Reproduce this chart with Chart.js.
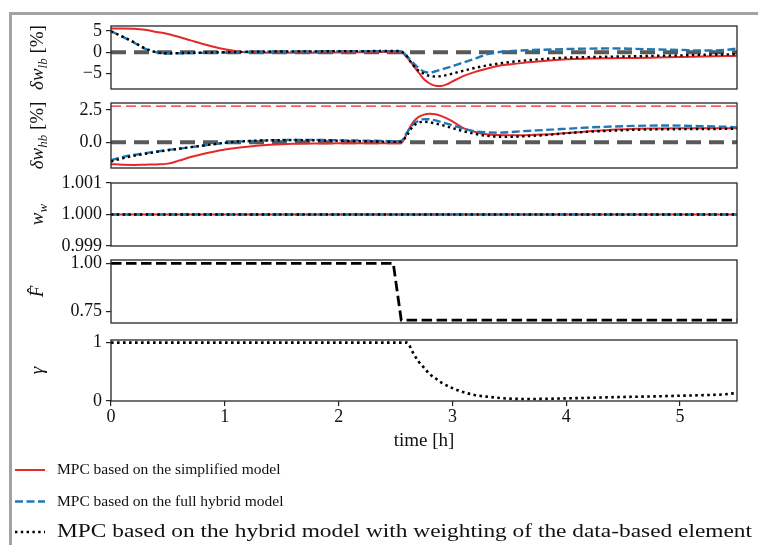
<!DOCTYPE html>
<html>
<head>
<meta charset="utf-8">
<script src="https://cdn.jsdelivr.net/npm/chart.js@4.4.0/dist/chart.umd.min.js"></script>
<style>
  html, body { margin: 0; padding: 0; background: #fff; }
  #wrap { position: relative; width: 758px; height: 545px; overflow: hidden; background: #fff; }
  #frame { position: absolute; left: 9px; top: 12px; right: 0; bottom: 0;
           border-top: 3px solid #a3a3a3; border-left: 3px solid #a3a3a3; }
  canvas { position: absolute; left: 0; }
</style>
</head>
<body>
<div id="wrap"><div id="frame"></div></div>
<script>
// ---- data ----
const timeGrid = [0, 0.1, 0.2, 0.3, 0.4, 0.5, 0.6, 0.7, 0.8, 0.9, 1.0, 1.1, 1.2, 1.4, 1.6, 1.8, 2.0, 2.2, 2.4, 2.5,
  2.55, 2.6, 2.65, 2.7, 2.75, 2.8, 2.85, 2.9, 2.95, 3.0, 3.1, 3.2, 3.3, 3.4, 3.5, 3.6, 3.8, 4.0, 4.2, 4.4,
  4.6, 4.8, 5.0, 5.2, 5.4, 5.5];

// delta w_lb [%]
const lbSimplified = [5.6, 5.6, 5.55, 5.3, 4.8, 4.3, 3.6, 2.8, 2.0, 1.3, 0.7, 0.25, 0.0, -0.1, -0.1, -0.1, -0.05, 0.0, 0.05, 0.1,
  0.0, -1.2, -2.9, -4.7, -6.4, -7.4, -7.95, -8.0, -7.6, -6.9, -5.6, -4.65, -3.9, -3.25, -2.9, -2.58, -2.1, -1.65, -1.5, -1.42,
  -1.35, -1.25, -1.15, -1.03, -0.92, -0.86];
const lbHybrid = [4.95, 3.7, 2.3, 0.8, -0.05, -0.3, -0.25, -0.2, -0.15, -0.1, -0.05, 0.0, 0.05, 0.1, 0.15, 0.15, 0.2, 0.2, 0.25, 0.25,
  0.15, -0.9, -2.4, -3.7, -4.6, -4.85, -4.5, -4.1, -3.7, -3.3, -2.4, -1.5, -0.5, 0.0, 0.25, 0.4, 0.6, 0.75, 0.85, 0.9,
  0.8, 0.65, 0.55, 0.4, 0.55, 0.9];
const lbWeighted = [4.95, 3.7, 2.4, 0.9, 0.0, -0.25, -0.2, -0.15, -0.1, -0.05, 0.0, 0.05, 0.1, 0.15, 0.2, 0.2, 0.25, 0.25, 0.3, 0.3,
  0.2, -1.0, -2.95, -4.3, -5.1, -5.6, -5.75, -5.65, -5.4, -5.05, -4.35, -3.7, -3.15, -2.7, -2.35, -2.05, -1.6, -1.3, -1.15, -1.05,
  -0.95, -0.85, -0.75, -0.62, -0.52, -0.47];

// delta w_hb [%]
const hbSimplified = [-1.7, -1.75, -1.76, -1.74, -1.72, -1.66, -1.42, -1.15, -0.93, -0.74, -0.57, -0.44, -0.34, -0.2, -0.12, -0.1, -0.08, -0.08, -0.07, -0.07,
  -0.05, 0.7, 1.5, 1.95, 2.15, 2.22, 2.18, 2.05, 1.85, 1.62, 1.08, 0.8, 0.62, 0.56, 0.54, 0.54, 0.6, 0.72, 0.85, 0.98,
  1.04, 1.07, 1.08, 1.08, 1.08, 1.08];
const hbHybrid = [-1.4, -1.15, -0.98, -0.85, -0.72, -0.6, -0.5, -0.38, -0.27, -0.15, -0.05, 0.03, 0.08, 0.15, 0.18, 0.18, 0.15, 0.13, 0.1, 0.08,
  0.1, 0.75, 1.35, 1.65, 1.8, 1.78, 1.7, 1.58, 1.45, 1.32, 1.05, 0.85, 0.77, 0.75, 0.78, 0.85, 0.95, 1.05, 1.15, 1.22,
  1.27, 1.3, 1.29, 1.25, 1.2, 1.16];
const hbWeighted = [-1.5, -1.25, -1.05, -0.9, -0.75, -0.62, -0.5, -0.38, -0.27, -0.15, -0.04, 0.05, 0.1, 0.15, 0.17, 0.15, 0.12, 0.08, 0.05, 0.03,
  0.05, 0.55, 1.2, 1.5, 1.6, 1.55, 1.45, 1.35, 1.22, 1.1, 0.85, 0.65, 0.5, 0.43, 0.42, 0.45, 0.55, 0.7, 0.82, 0.9,
  0.97, 1.0, 1.02, 1.03, 1.04, 1.05];
const hbLimit = 2.8;

// w_w
const wwTime = [0, 5.5];
const wwSimplified = [1.0, 1.0];
const wwHybrid = [1.0, 1.0];
const wwWeighted = [1.0, 1.0];

// F hat
const fTime = [0, 2.48, 2.55, 5.5];
const fHat = [1.0, 1.0, 0.705, 0.705];

// gamma
const gammaTime = [0, 2.6, 2.65, 2.7, 2.75, 2.8, 2.85, 2.9, 3.0, 3.1, 3.2, 3.3, 3.4, 3.5, 3.7, 4.0, 4.4, 4.8, 5.0, 5.2, 5.4, 5.5];
const gammaValues = [1.0, 1.0, 0.84, 0.68, 0.57, 0.46, 0.39, 0.32, 0.22, 0.15, 0.1, 0.075, 0.055, 0.04, 0.035, 0.045, 0.065, 0.08, 0.09, 0.1, 0.115, 0.14];

// ticks
const timeTicks = [0, 1, 2, 3, 4, 5];
const lbTicks = [-5, 0, 5];
const hbTicks = [0, 2.5];
const wwTicks = [0.999, 1.0, 1.001];
const fTicks = [0.75, 1.0];
const gammaTicks = [0, 1];

const seriesLabels = [
  'MPC based on the simplified model',
  'MPC based on the full hybrid model',
  'MPC based on the hybrid model with weighting of the data-based element'
];

// ---- styles ----
const FONT = "'Liberation Serif', 'DejaVu Serif', serif";
const TXT = '#111';
const RED = '#e5292b', BLUE = '#1f77b4', BLACK = '#000', GRAY = '#595959';
const seriesStyle = [
  { color: RED, width: 2, dash: [] },
  { color: BLUE, width: 2.4, dash: [8, 3.5] },
  { color: BLACK, width: 2.4, dash: [2.4, 3.4] }
];

function pts(xs, ys) {
  return xs.map((x, i) => ({ x: x, y: ys[i] }));
}

function line(xs, ys, style, smooth) {
  return {
    data: pts(xs, ys),
    borderColor: style.color,
    borderWidth: style.width,
    borderDash: style.dash,
    pointRadius: 0,
    fill: false,
    cubicInterpolationMode: smooth ? 'monotone' : 'default',
    tension: 0
  };
}

function constLine(y, color, width, dash) {
  return line([0, 5.5], [y, y], { color: color, width: width, dash: dash }, false);
}

// frame around every axes box
const framePlugin = {
  id: 'frame',
  afterDatasetsDraw(chart) {
    const { ctx, chartArea: a } = chart;
    ctx.save();
    ctx.strokeStyle = '#262626';
    ctx.lineWidth = 1.3;
    ctx.strokeRect(a.left, a.top, a.right - a.left, a.bottom - a.top);
    ctx.restore();
  }
};

// rotated y label with italic / subscript parts
function labelPlugin(parts) {
  return {
    id: 'ylabel',
    afterDraw(chart) {
      const { ctx, chartArea: a } = chart;
      const fontOf = p => (p.italic ? 'italic ' : '') + (p.sub ? 13 : 19) + 'px ' + FONT;
      ctx.save();
      ctx.translate(43, (a.top + a.bottom) / 2);
      ctx.rotate(-Math.PI / 2);
      let total = 0;
      parts.forEach(p => { ctx.font = fontOf(p); total += ctx.measureText(p.text).width; });
      let x = -total / 2;
      ctx.fillStyle = TXT;
      ctx.textBaseline = 'alphabetic';
      parts.forEach(p => {
        ctx.font = fontOf(p);
        ctx.fillText(p.text, x, p.sub ? 4 : 0);
        x += ctx.measureText(p.text).width;
      });
      ctx.restore();
    }
  };
}

// legend under the bottom panel (last row is wider in the source figure)
function legendPlugin(canvasTop) {
  return {
    id: 'bottomLegend',
    afterDraw(chart) {
      const ctx = chart.ctx;
      const rows = [470, 501.5, 532];
      const sizes = [15.5, 15.5, 18];
      const spans = [0, 0, 695];
      ctx.save();
      seriesLabels.forEach((label, i) => {
        const y = rows[i] - canvasTop;
        const s = seriesStyle[i];
        ctx.beginPath();
        ctx.strokeStyle = s.color;
        ctx.lineWidth = s.width;
        ctx.setLineDash(s.dash);
        ctx.moveTo(15, y);
        ctx.lineTo(45, y);
        ctx.stroke();
        ctx.setLineDash([]);
        ctx.fillStyle = TXT;
        ctx.font = sizes[i] + 'px ' + FONT;
        ctx.textBaseline = 'middle';
        const w = ctx.measureText(label).width;
        const sx = spans[i] ? spans[i] / w : 1;
        ctx.save();
        ctx.translate(57, y);
        ctx.scale(sx, 1);
        ctx.fillText(label, 0, 0);
        ctx.restore();
      });
      ctx.restore();
    }
  };
}

function yScale(min, max, ticks, fmt) {
  return {
    type: 'linear',
    min: min,
    max: max,
    afterBuildTicks: s => { s.ticks = ticks.map(v => ({ value: v })); },
    afterFit: s => { s.width = 111; s.paddingTop = 0; s.paddingBottom = 0; },
    ticks: { callback: v => fmt(v), font: { family: FONT, size: 18 }, color: TXT, padding: 4 },
    grid: { drawOnChartArea: false, drawTicks: true, tickLength: 5, color: '#222', lineWidth: 1.2 },
    border: { display: false }
  };
}

function makePanel(cfg) {
  const canvas = document.createElement('canvas');
  canvas.width = 758;
  canvas.height = cfg.height;
  canvas.style.top = cfg.top + 'px';
  document.getElementById('wrap').appendChild(canvas);

  const xScale = cfg.showX ? {
    type: 'linear',
    min: 0,
    max: 5.5,
    position: 'bottom',
    afterBuildTicks: s => { s.ticks = timeTicks.map(v => ({ value: v })); },
    afterFit: s => { s.height = 55; s.paddingLeft = 0; s.paddingRight = 0; },
    ticks: { font: { family: FONT, size: 18 }, color: TXT, padding: 0, maxRotation: 0, autoSkip: false },
    grid: { drawOnChartArea: false, drawTicks: true, tickLength: 5, color: '#222', lineWidth: 1.2 },
    border: { display: false },
    title: { display: true, text: 'time [h]', font: { family: FONT, size: 19 }, color: TXT, padding: { top: 0, bottom: 4 } }
  } : { type: 'linear', min: 0, max: 5.5, display: false };

  const plugins = [framePlugin, labelPlugin(cfg.label)];
  if (cfg.legend) plugins.push(legendPlugin(cfg.top));

  return new Chart(canvas, {
    type: 'line',
    data: { datasets: cfg.datasets },
    options: {
      responsive: false,
      animation: false,
      devicePixelRatio: 1,
      layout: { padding: { left: 0, right: 21, top: cfg.padTop, bottom: cfg.padBottom } },
      plugins: { legend: { display: false }, tooltip: { enabled: false } },
      scales: { x: xScale, y: yScale(cfg.yMin, cfg.yMax, cfg.yTicks, cfg.yFmt) }
    },
    plugins: plugins
  });
}

const minus = v => (v < 0 ? '\u2212' + Math.abs(v) : String(v));
const [sRed, sBlue, sBlack] = seriesStyle;

// panel 1: delta w_lb
makePanel({
  top: 12, height: 91, padTop: 14, padBottom: 14,
  yMin: -8.7, yMax: 6.2, yTicks: lbTicks, yFmt: minus,
  label: [{ text: '\u03b4w', italic: true }, { text: 'lb', italic: true, sub: true }, { text: ' [%]' }],
  datasets: [
    line(timeGrid, lbWeighted, sBlack, true),
    line(timeGrid, lbHybrid, sBlue, true),
    line(timeGrid, lbSimplified, sRed, true),
    constLine(0, GRAY, 4, [15, 8])
  ]
});

// panel 2: delta w_hb
makePanel({
  top: 89, height: 93, padTop: 14, padBottom: 14,
  yMin: -2.0, yMax: 3.05, yTicks: hbTicks, yFmt: v => v.toFixed(1),
  label: [{ text: '\u03b4w', italic: true }, { text: 'hb', italic: true, sub: true }, { text: ' [%]' }],
  datasets: [
    line(timeGrid, hbWeighted, sBlack, true),
    line(timeGrid, hbHybrid, sBlue, true),
    line(timeGrid, hbSimplified, sRed, true),
    constLine(0, GRAY, 4, [15, 8]),
    constLine(hbLimit, RED, 1.2, [10, 5])
  ]
});

// panel 3: w_w
makePanel({
  top: 169, height: 91, padTop: 14, padBottom: 14,
  yMin: 0.999, yMax: 1.001, yTicks: wwTicks, yFmt: v => v.toFixed(3),
  label: [{ text: 'w', italic: true }, { text: 'w', italic: true, sub: true }],
  datasets: [
    line(wwTime, wwWeighted, sBlack, false),
    line(wwTime, wwHybrid, sBlue, false),
    line(wwTime, wwSimplified, sRed, false)
  ]
});

// panel 4: F hat
makePanel({
  top: 246, height: 91, padTop: 14, padBottom: 14,
  yMin: 0.69, yMax: 1.017, yTicks: fTicks, yFmt: v => v.toFixed(2),
  label: [{ text: 'F\u0302', italic: true }],
  datasets: [
    line(fTime, fHat, { color: BLACK, width: 2.8, dash: [10.5, 4.5] }, false)
  ]
});

// panel 5: gamma, with time axis and legend
makePanel({
  top: 325, height: 220, padTop: 15, padBottom: 89, showX: true, legend: true,
  yMin: 0, yMax: 1.045, yTicks: gammaTicks, yFmt: v => String(v),
  label: [{ text: '\u03b3', italic: true }],
  datasets: [
    line(gammaTime, gammaValues, { color: BLACK, width: 2.6, dash: [2.6, 3.4] }, true)
  ]
});
</script>
</body>
</html>
